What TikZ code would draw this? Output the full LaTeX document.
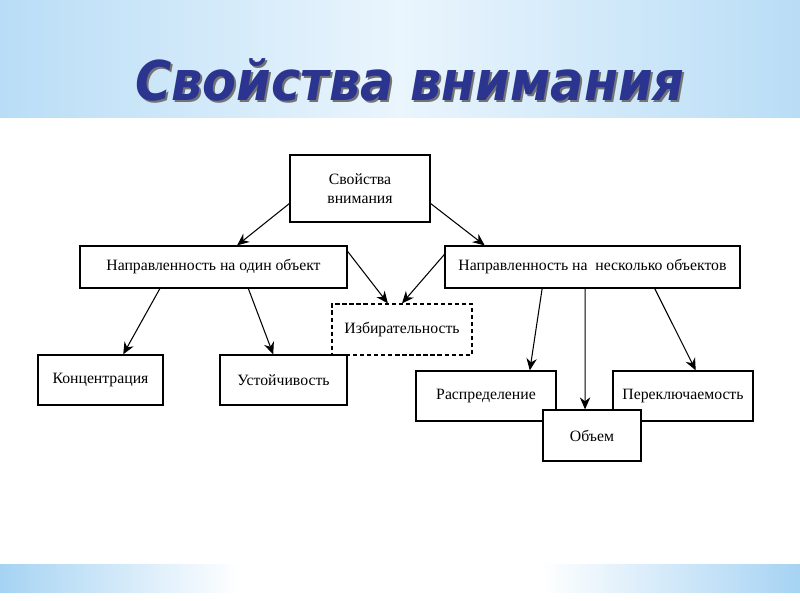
\documentclass[tikz,border=0pt]{standalone}
\usepackage{fontspec}
\setmainfont{Liberation Serif}
\newfontfamily\titlefont{DejaVu Sans Condensed}
\usetikzlibrary{calc,arrows.meta}
\definecolor{bandside}{HTML}{B9DDF6}
\definecolor{bandmid}{HTML}{EAF5FD}
\definecolor{bottomside}{HTML}{A6D3F3}
\definecolor{titleblue}{HTML}{2B3590}
\tikzset{
  box/.style={draw=black, line width=0.9pt, fill=white, inner sep=0pt, font=\fontsize{11.2}{13.5}\selectfont, align=center},
  dbox/.style={box, dashed, dash pattern=on 3pt off 2pt},
  arr/.style={-{Stealth[length=3mm,width=2.6mm]}, line width=0.75pt}
}
\begin{document}
\begin{tikzpicture}[x=0.025cm,y=-0.025cm]
\useasboundingbox (0,0) rectangle (800,600);
\fill[white] (0,0) rectangle (800,600);
% top band
\shade[left color=bandmid, right color=bandside] (400,0) rectangle (800,117);
\shade[left color=bandside, right color=bandmid] (0,0) rectangle (400,117);
% bottom band
\shade[left color=bottomside, right color=white] (0,564) rectangle (240,592);
\fill[white] (240,564) rectangle (540,592);
\shade[left color=white, right color=bottomside] (540,564) rectangle (800,592);
% title
\node[text=black!55, font=\titlefont\bfseries\itshape\fontsize{39}{42}\selectfont] at (412,82) {Свойства внимания};
\node[text=titleblue, font=\titlefont\bfseries\itshape\fontsize{39}{42}\selectfont] (title) at (410,80) {Свойства внимания};
% boxes
\node[box, minimum width=140*0.025cm, minimum height=67*0.025cm] (top) at (360,188.5) {Свойства\\внимания};
\node[box, minimum width=267*0.025cm, minimum height=42*0.025cm] (left) at (213.5,267) {Направленность на один объект};
\node[box, minimum width=295*0.025cm, minimum height=42*0.025cm] (right) at (592.5,267) {Направленность на\ \ несколько объектов};
\node[dbox, minimum width=140*0.025cm, minimum height=51*0.025cm] (izb) at (402,329.5) {Избирательность};
\node[box, minimum width=125*0.025cm, minimum height=50*0.025cm] (konc) at (100.5,380) {Концентрация};
\node[box, minimum width=127*0.025cm, minimum height=50*0.025cm] (ust) at (283.5,380) {Устойчивость};
\node[box, minimum width=140*0.025cm, minimum height=50*0.025cm] (raspr) at (486,396) {Распределение};
\node[box, minimum width=140*0.025cm, minimum height=50*0.025cm] (perekl) at (683,396) {Переключаемость};
\node[box, minimum width=98*0.025cm, minimum height=51*0.025cm] (obem) at (592,435.5) {Объем};
% arrows
\draw[arr] ($(top.south west)!0.28!(top.north west)$) -- ($(left.north west)!0.588!(left.north east)$);
\draw[arr] ($(top.south east)!0.28!(top.north east)$) -- ($(right.north west)!0.136!(right.north east)$);
\draw[arr] ($(left.north east)!0.14!(left.south east)$) -- ($(izb.north west)!0.4!(izb.north east)$);
\draw[arr] ($(right.north west)!0.21!(right.south west)$) -- ($(izb.north west)!0.5!(izb.north east)$);
\draw[arr] ($(left.south west)!0.30!(left.south east)$) -- ($(konc.north west)!0.68!(konc.north east)$);
\draw[arr] ($(left.south west)!0.63!(left.south east)$) -- ($(ust.north west)!0.42!(ust.north east)$);
\draw[arr] ($(right.south west)!0.33!(right.south east)$) -- ($(raspr.north west)!0.81!(raspr.north east)$);
\draw[arr] ($(right.south west)!0.475!(right.south east)$) -- ($(obem.north west)!0.43!(obem.north east)$);
\draw[arr] ($(right.south west)!0.71!(right.south east)$) -- ($(perekl.north west)!0.59!(perekl.north east)$);
\end{tikzpicture}
\end{document}
